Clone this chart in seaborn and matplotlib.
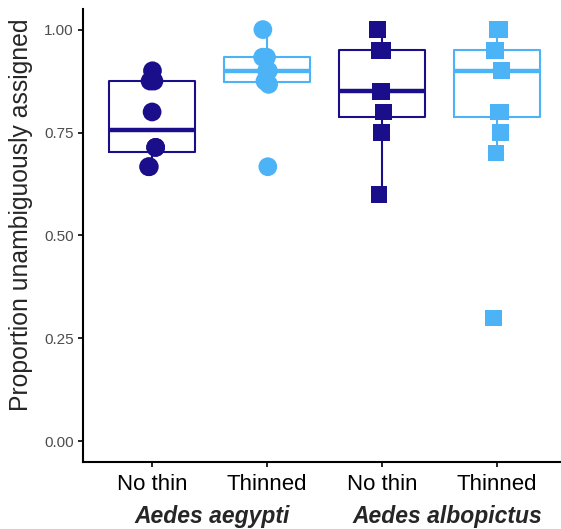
import numpy as np
import pandas as pd
import seaborn as sns
import matplotlib.pyplot as plt
from matplotlib import transforms

# ---- data ----
groups = ["aeg_no", "aeg_thin", "alb_no", "alb_thin"]
tick_labels = ["No thin", "Thinned", "No thin", "Thinned"]
species_labels = ["Aedes aegypti", "Aedes albopictus"]
treatments = ["No thin", "Thinned"]

aeg_nothin = [0.9, 0.875, 0.875, 0.8, 0.714, 0.714, 0.667, 0.667]
aeg_thinned = [1.0, 0.933, 0.933, 0.9, 0.9, 0.875, 0.867, 0.667]
alb_nothin = [1.0, 0.95, 0.95, 0.85, 0.85, 0.8, 0.75, 0.6]
alb_thinned = [1.0, 1.0, 0.95, 0.95, 0.95, 0.9, 0.9, 0.8, 0.8, 0.75, 0.7, 0.3]

colors = {"No thin": "#1B0E8A", "Thinned": "#4DB3F7"}

rows = []
for grp, vals, trt, sp in [("aeg_no", aeg_nothin, "No thin", "aeg"),
                           ("aeg_thin", aeg_thinned, "Thinned", "aeg"),
                           ("alb_no", alb_nothin, "No thin", "alb"),
                           ("alb_thin", alb_thinned, "Thinned", "alb")]:
    for v in vals:
        rows.append({"group": grp, "value": v, "treatment": trt, "species": sp})
df = pd.DataFrame(rows)

sns.set_style("ticks")
plt.rcParams["font.family"] = ["Liberation Sans", "DejaVu Sans"]

W, H = 561, 529
fig = plt.figure(figsize=(W / 100, H / 100), dpi=100)
ax = fig.add_axes([83 / W, 67 / H, 483 / W, 453 / H])

sns.boxplot(data=df, x="group", y="value", hue="treatment", order=groups,
            hue_order=treatments, palette=colors, fill=False, dodge=False,
            width=0.75, showfliers=False, showcaps=False, linewidth=1.5,
            medianprops=dict(linewidth=3.2), legend=False, ax=ax)

np.random.seed(3)
sns.stripplot(data=df[df.species == "aeg"], x="group", y="value",
              hue="treatment", order=groups, hue_order=treatments,
              palette=colors, marker="o", size=13.5, jitter=0.04, dodge=False,
              linewidth=0, legend=False, zorder=3, ax=ax)
sns.stripplot(data=df[df.species == "alb"], x="group", y="value",
              hue="treatment", order=groups, hue_order=treatments,
              palette=colors, marker="s", size=12, jitter=0.04, dodge=False,
              linewidth=0, legend=False, zorder=3, ax=ax)

ax.set_xlim(-0.6, 3.6)
ax.set_ylim(-0.05, 1.05)
ax.set_yticks([0, 0.25, 0.5, 0.75, 1.0])
ax.set_yticklabels(["0.00", "0.25", "0.50", "0.75", "1.00"])
ax.set_xticks(range(len(groups)))
ax.set_xticklabels(tick_labels)
ax.set_xlabel("")
ax.set_ylabel("Proportion unambiguously assigned", fontsize=17.8)
ax.yaxis.set_label_coords(-0.104, 0.545)

for s in ["top", "right"]:
    ax.spines[s].set_visible(False)
for s in ["left", "bottom"]:
    ax.spines[s].set_linewidth(1.5)
    ax.spines[s].set_color("black")

ax.tick_params(axis="y", labelsize=11, labelcolor="#4D4D4D", length=3.5,
               width=1.2, color="black", pad=3)
ax.tick_params(axis="x", labelsize=16, labelcolor="black", length=3.5,
               width=1.2, color="black", pad=5.5)

trans = transforms.blended_transform_factory(ax.transData, fig.transFigure)
species_x = [0.52, 2.57]
for xpos, sp in zip(species_x, species_labels):
    ax.text(xpos, (H - 523) / H, sp, transform=trans, ha="center",
            va="baseline", fontsize=16.5, fontweight="bold", fontstyle="italic")

fig.savefig("out.png", dpi=100)
